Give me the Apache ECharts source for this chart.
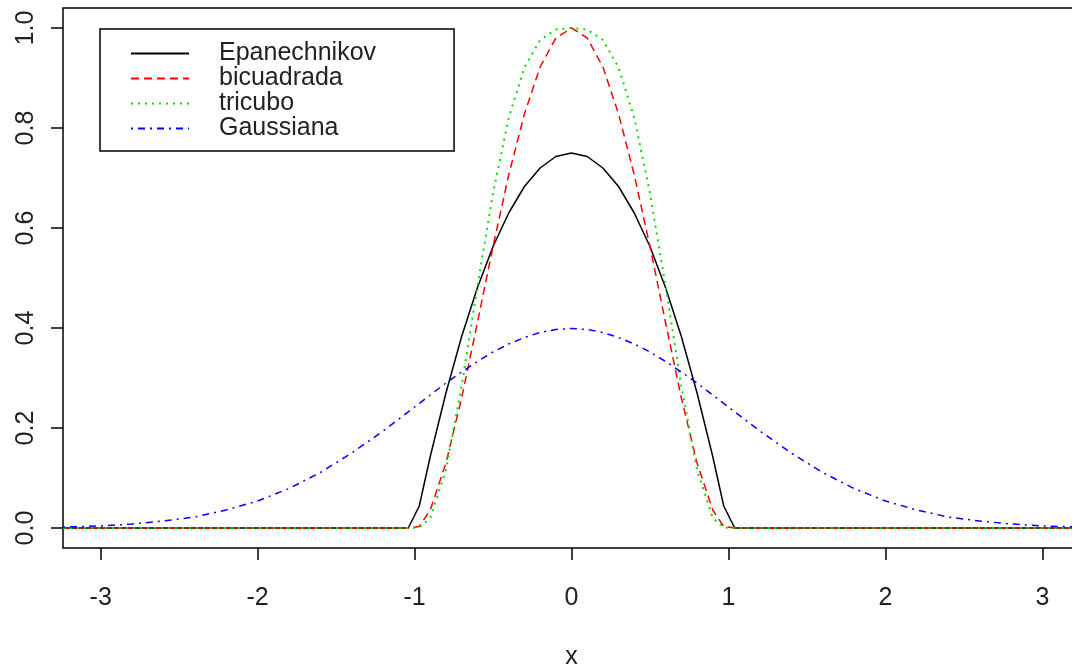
<!DOCTYPE html>
<html>
<head>
<meta charset="utf-8">
<script src="https://cdn.jsdelivr.net/npm/echarts@6/dist/echarts.min.js"></script>
<style>
  html, body { margin: 0; padding: 0; background: #fff; }
  #chart { width: 1072px; height: 668px; }
</style>
</head>
<body>
<div id="chart"></div>
<script>
// kernel curves
var epanX = [-3.24, -1.04, -0.97, -0.9, -0.8, -0.7, -0.6, -0.5, -0.4, -0.3, -0.2, -0.1, 0,
  0.1, 0.2, 0.3, 0.4, 0.5, 0.6, 0.7, 0.8, 0.9, 0.97, 1.04, 3.24];
var epanY = [0, 0, 0.044, 0.143, 0.27, 0.383, 0.48, 0.563, 0.63, 0.683, 0.72, 0.743, 0.75,
  0.743, 0.72, 0.683, 0.63, 0.563, 0.48, 0.383, 0.27, 0.143, 0.044, 0, 0];

var biX = [-3.24, -1.04, -0.97, -0.9, -0.8, -0.7, -0.6, -0.5, -0.4, -0.3, -0.2, -0.1, 0,
  0.1, 0.2, 0.3, 0.4, 0.5, 0.6, 0.7, 0.8, 0.9, 0.97, 1.04, 3.24];
var biY = [0, 0, 0.003, 0.036, 0.13, 0.26, 0.41, 0.563, 0.706, 0.828, 0.922, 0.98, 1,
  0.98, 0.922, 0.828, 0.706, 0.563, 0.41, 0.26, 0.13, 0.036, 0.003, 0, 0];

var triX = [-3.24, -1.04, -0.97, -0.9, -0.8, -0.7, -0.6, -0.5, -0.4, -0.3, -0.2, -0.1, 0,
  0.1, 0.2, 0.3, 0.4, 0.5, 0.6, 0.7, 0.8, 0.9, 0.97, 1.04, 3.24];
var triY = [0, 0, 0.001, 0.02, 0.116, 0.284, 0.482, 0.67, 0.82, 0.921, 0.976, 0.997, 1,
  0.997, 0.976, 0.921, 0.82, 0.67, 0.482, 0.284, 0.116, 0.02, 0.001, 0, 0];

var gaussX = [-3.24, -3.0, -2.8, -2.6, -2.4, -2.2, -2.0, -1.8, -1.6, -1.4, -1.2, -1.0,
  -0.9, -0.8, -0.7, -0.6, -0.5, -0.4, -0.3, -0.2, -0.1, 0,
  0.1, 0.2, 0.3, 0.4, 0.5, 0.6, 0.7, 0.8, 0.9,
  1.0, 1.2, 1.4, 1.6, 1.8, 2.0, 2.2, 2.4, 2.6, 2.8, 3.0, 3.24];
var gaussY = [0.002, 0.004, 0.008, 0.014, 0.022, 0.036, 0.054, 0.079, 0.111, 0.15, 0.194, 0.242,
  0.266, 0.29, 0.312, 0.333, 0.352, 0.368, 0.381, 0.391, 0.397, 0.399,
  0.397, 0.391, 0.381, 0.368, 0.352, 0.333, 0.312, 0.29, 0.266,
  0.242, 0.194, 0.15, 0.111, 0.079, 0.054, 0.036, 0.022, 0.014, 0.008, 0.004, 0.002];

var seriesNames = ['Epanechnikov', 'bicuadrada', 'tricubo', 'Gaussiana'];
var xTicks = [-3, -2, -1, 0, 1, 2, 3];
var yTicks = [0, 0.2, 0.4, 0.6, 0.8, 1.0];

function pairs(xs, ys) {
  return xs.map(function (x, i) { return [x, ys[i]]; });
}

var chart = echarts.init(document.getElementById('chart'));
var font = 'Liberation Sans, Arial, sans-serif';

chart.setOption({
  animation: false,
  backgroundColor: '#fff',
  grid: {
    left: 63,
    width: 1017, // box runs past the right edge of the picture
    top: 8,
    bottom: 120,
    outerBoundsMode: 'none',
    containLabel: false,
    show: true,
    borderColor: '#000',
    borderWidth: 1.5
  },
  legend: {
    left: 100,
    top: 29,
    orient: 'vertical',
    data: seriesNames,
    itemWidth: 58,
    itemHeight: 14,
    itemGap: 0,
    itemStyle: { opacity: 0 },
    borderColor: '#000',
    borderWidth: 1.5,
    padding: [12, 78, 10, 30],
    textStyle: {
      fontFamily: font,
      fontSize: 25,
      lineHeight: 25,
      color: '#222',
      padding: [0, 0, 0, 25]
    }
  },
  xAxis: {
    type: 'value',
    min: -3.24,
    max: 3.24,
    name: 'x',
    nameLocation: 'middle',
    nameGap: 97,
    nameTextStyle: { fontFamily: font, fontSize: 25, color: '#222' },
    axisLine: { show: false, onZero: false },
    splitLine: { show: false },
    axisTick: {
      show: true,
      length: 12,
      customValues: xTicks,
      lineStyle: { color: '#000', width: 1.5 }
    },
    axisLabel: {
      customValues: xTicks,
      margin: 38,
      fontFamily: font,
      fontSize: 25,
      color: '#222'
    }
  },
  yAxis: {
    type: 'value',
    min: -0.04,
    max: 1.04,
    axisLine: { show: false, onZero: false },
    splitLine: { show: false },
    axisTick: {
      show: true,
      length: 12,
      customValues: yTicks,
      lineStyle: { color: '#000', width: 1.5 }
    },
    axisLabel: {
      customValues: yTicks,
      rotate: 90,
      margin: 24,
      fontFamily: font,
      fontSize: 25,
      color: '#222',
      formatter: function (v) { return v.toFixed(1); }
    }
  },
  series: [
    {
      name: seriesNames[0],
      type: 'line',
      symbol: 'none',
      data: pairs(epanX, epanY),
      lineStyle: { color: '#000', width: 1.5, type: 'solid' },
      itemStyle: { color: '#000' }
    },
    {
      name: seriesNames[1],
      type: 'line',
      symbol: 'none',
      data: pairs(biX, biY),
      lineStyle: { color: '#ff0000', width: 1.5, type: [8, 5] },
      itemStyle: { color: '#ff0000' }
    },
    {
      name: seriesNames[2],
      type: 'line',
      symbol: 'none',
      data: pairs(triX, triY),
      lineStyle: { color: '#00dd00', width: 2, type: [2, 5] },
      itemStyle: { color: '#00dd00' }
    },
    {
      name: seriesNames[3],
      type: 'line',
      symbol: 'none',
      data: pairs(gaussX, gaussY),
      lineStyle: { color: '#0000ff', width: 1.5, type: [2, 5, 7, 5] },
      itemStyle: { color: '#0000ff' }
    }
  ]
});
</script>
</body>
</html>
